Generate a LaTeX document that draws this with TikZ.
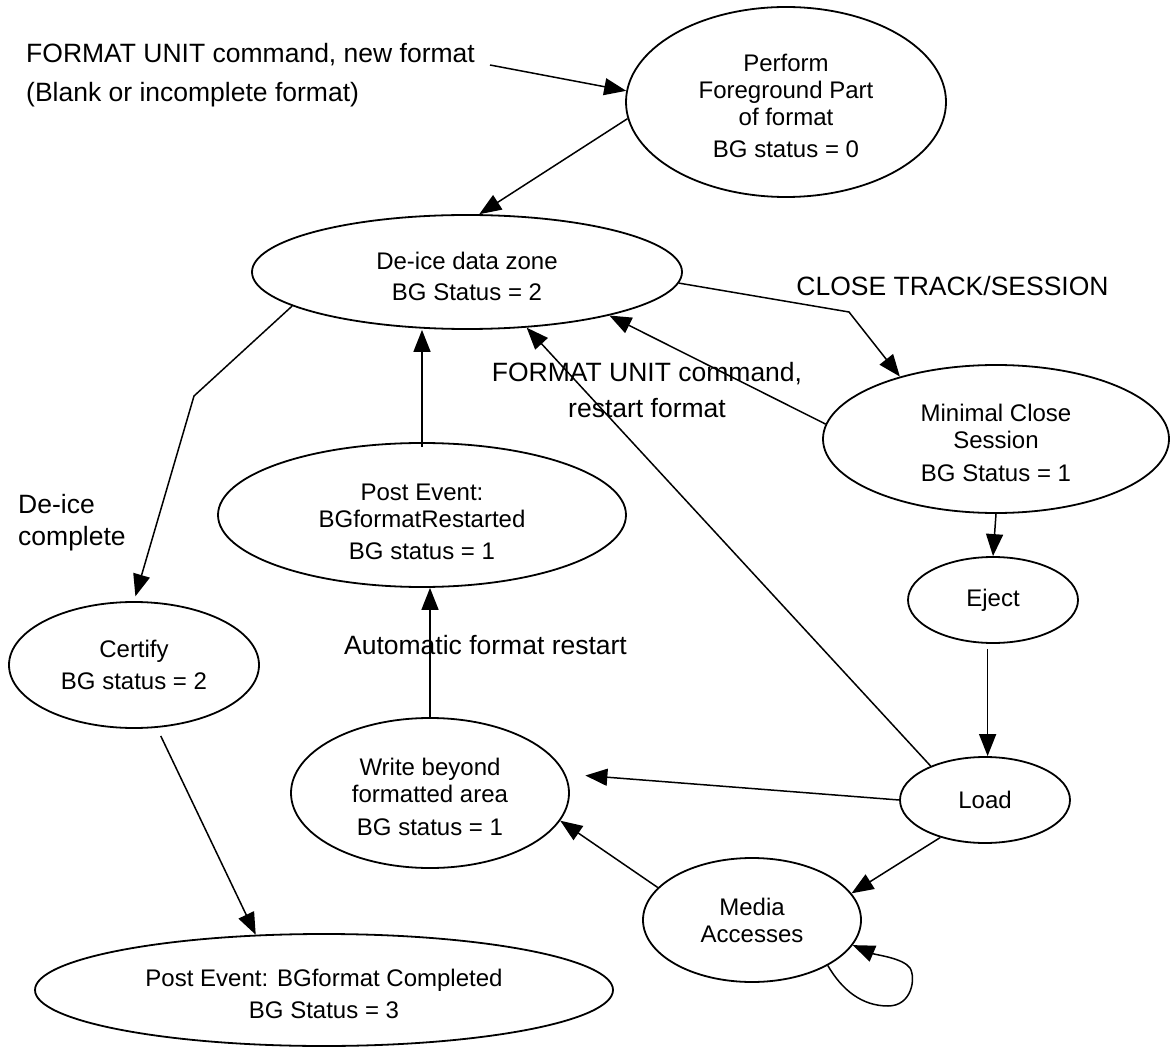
\documentclass[tikz,border=0pt]{standalone}
\usepackage{fontspec}
\setmainfont{Liberation Sans}
\usetikzlibrary{arrows.meta,calc,shapes.geometric}
\newcommand{\tp}{\rule{0pt}{26pt}}
\begin{document}
\begin{tikzpicture}[x=1pt,y=-1pt,
  st/.style={ellipse,draw,line width=1.8pt,inner sep=0pt,align=center,font=\fontsize{24}{27}\selectfont},
  lbl/.style={inner sep=0pt,font=\fontsize{26.5}{36}\selectfont},
  arr/.style={line width=1.5pt,-{Triangle[length=22pt,width=17pt]}}]
\useasboundingbox (0,0) rectangle (1173,1048);

% states
\node[st,minimum width=320pt,minimum height=190pt] (perform) at (786,102)
  {\tp Perform\\Foreground Part\\of format\\[5pt]BG status = 0};
\node[st,minimum width=430pt,minimum height=114pt] (deice) at (467,272)
  {\tp De-ice data zone\\[4pt]BG Status = 2};
\node[st,minimum width=346pt,minimum height=148pt] (minimal) at (996,439)
  {\tp Minimal Close\\Session\\[6pt]BG Status = 1};
\node[st,minimum width=170pt,minimum height=86pt] (eject) at (993,600) {Eject};
\node[st,minimum width=170pt,minimum height=86pt] (load) at (985,800) {Load};
\node[st,minimum width=218pt,minimum height=124pt] (media) at (752,920)
  {Media\\Accesses};
\node[st,minimum width=278pt,minimum height=150pt] (write) at (430,793)
  {\tp Write beyond\\formatted area\\[6pt]BG status = 1};
\node[st,minimum width=408pt,minimum height=144pt] (restarted) at (422,515)
  {\rule{0pt}{31pt}Post Event:\\BGformatRestarted\\[5pt]BG status = 1};
\fill[white] (340,559.5) rectangle (505,566);
\node[st,minimum width=250pt,minimum height=126pt] (certify) at (134,665)
  {Certify\\[5pt]BG status = 2};
\node[st,minimum width=578pt,minimum height=112pt] (completed) at (324,990)
  {\tp Post Event: BGformat Completed\\[5pt]BG Status = 3};

% labels
\node[lbl,align=left,anchor=west,font=\fontsize{26.5}{39}\selectfont] (fmtnew) at (26,75)
  {FORMAT UNIT command, new format\\(Blank or incomplete format)};
\node[lbl] (closelbl) at (952.5,286) {CLOSE TRACK/SESSION};
\node[lbl,align=center] (fmtrestart) at (647,390) {FORMAT UNIT command,\\restart format};
\node[lbl,align=left,anchor=west,font=\fontsize{26.5}{32}\selectfont] (deicelbl) at (18,522.5)
  {De-ice\\complete};
\node[lbl] (autolbl) at (485.5,645) {Automatic format restart};

% connectors
\coordinate (fmtstart) at (490,65);
\draw[arr] (fmtstart) -- (perform.176);
\draw[arr] (perform.186) -- (deice.78);
\coordinate (closebend) at (849,312);
\draw[arr] (deice.357) -- (closebend) -- (minimal.147);
\draw[arr] (minimal.175) -- (deice.343);
\draw[arr] (minimal.south) -- (eject.north);
\draw[arr,shorten <=5pt] (eject.263) -- (eject.263 |- load.north);
\draw[arr,shorten >=20pt] (load.west) -- (write.8);
\draw[arr] (load.148) -- (deice.317);
\draw[arr] (load.220) -- (media.15);
\draw[arr] (media.161) -- (write.348);
\draw[arr] (write.north) -- (write.north |- restarted.south);
\draw[arr,shorten <=-5pt] (restarted.north) -- (restarted.north |- deice.south);
\coordinate (deicebend) at (194,396);
\draw[arr,shorten >=5pt] (deice.191) -- (deicebend) -- (certify.north);
\draw[arr,shorten <=9pt] (certify.290) -- (completed.141);
\draw[arr] (media.329) .. controls (842,990) and (862,1006) .. (888,1006)
  .. controls (912,1006) and (916,978) .. (910,968)
  .. controls (903,958) and (876,955) .. (media.346);
\end{tikzpicture}
\end{document}
